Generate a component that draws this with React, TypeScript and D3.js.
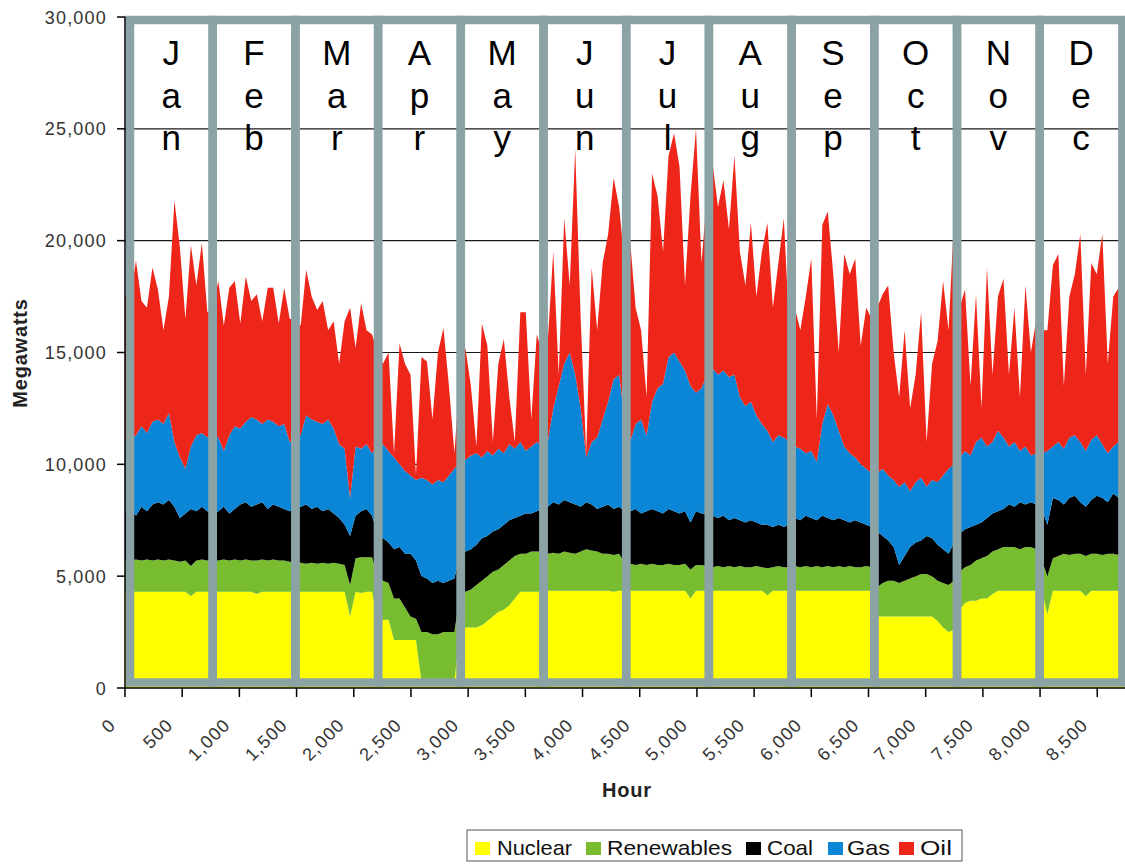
import React from "react";
import * as d3 from "d3";

// Hourly generation by fuel, sampled every 48 hours through the year (MW).
const HOUR_STEP = 48;

const nuclear = [
  // Jan
  4300, 4300, 4300, 4300, 4300, 4300, 4300, 4300, 4300, 4300, 4300, 4300, 4100, 4300, 4300, 4300,
  // Feb
  4300, 4300, 4300, 4300, 4300, 4300, 4300, 4300, 4200, 4300, 4300, 4300, 4300, 4300,
  // Mar
  4300, 4300, 4300, 4300, 4300, 4300, 4300, 4300, 4300, 4300, 4300, 3200, 4300, 4250, 4300, 4300,
  // Apr
  3050, 3050, 3050, 2150, 2150, 2150, 2150, 2150, 300, 300, 300, 300, 300, 300, 300,
  // May
  2600, 2700, 2700, 2700, 2800, 3000, 3200, 3400, 3500, 3700, 4000, 4300, 4300, 4300, 4300,
  // Jun
  4300, 4350, 4350, 4350, 4350, 4350, 4350, 4350, 4350, 4350, 4350, 4350, 4350, 4300, 4350,
  // Jul
  4350, 4350, 4350, 4350, 4350, 4350, 4350, 4350, 4350, 4350, 4350, 4350, 4000, 4350, 4350,
  // Aug
  4350, 4350, 4350, 4350, 4350, 4350, 4350, 4350, 4350, 4350, 4350, 4150, 4350, 4350, 4350, 4350,
  // Sep
  4350, 4350, 4350, 4350, 4350, 4350, 4350, 4350, 4350, 4350, 4350, 4350, 4350, 4350, 4350,
  // Oct
  3200, 3200, 3200, 3200, 3200, 3200, 3200, 3200, 3200, 3200, 3200, 3000, 2700, 2500, 2600,
  // Nov
  3500, 3800, 3900, 3900, 4000, 4000, 4200, 4350, 4350, 4350, 4350, 4350, 4350, 4350, 4350,
  // Dec
  4350, 3300, 4350, 4350, 4350, 4350, 4350, 4350, 4100, 4350, 4350, 4350, 4350, 4350, 4350, 4350,
];

const renewables = [
  1400, 1400, 1450, 1400, 1450, 1400, 1450, 1400, 1450, 1400, 1350, 1400, 1350, 1400, 1450, 1400,
  1400, 1400, 1450, 1400, 1450, 1400, 1450, 1400, 1500, 1450, 1400, 1450, 1400, 1400,
  1350, 1300, 1300, 1250, 1300, 1250, 1300, 1250, 1300, 1250, 1200, 1400, 1500, 1600, 1550, 1550,
  1950, 1750, 1650, 1850, 1850, 1450, 1050, 950, 2200, 2200, 2100, 2100, 2200, 2200, 2200,
  1600, 1600, 1700, 1900, 2000, 2000, 2000, 1900, 2000, 2000, 1900, 1700, 1700, 1800, 1800,
  1800, 1650, 1700, 1650, 1750, 1700, 1650, 1750, 1850, 1800, 1750, 1650, 1650, 1650, 1650,
  1250, 1200, 1150, 1200, 1150, 1200, 1150, 1150, 1200, 1150, 1150, 1200, 1300, 1150, 1150,
  1100, 1050, 1100, 1050, 1100, 1050, 1100, 1050, 1050, 1100, 1050, 1200, 1050, 1100, 1050, 1050,
  1100, 1050, 1100, 1050, 1100, 1050, 1100, 1050, 1100, 1050, 1100, 1050, 1050, 1100, 1050,
  1300, 1500, 1600, 1600, 1500, 1600, 1700, 1800, 1900, 1900, 1800, 1800, 2000, 2100, 2200,
  1700, 1600, 1600, 1800, 1800, 1900, 1900, 1850, 1950, 1950, 1950, 1850, 1950, 1950, 1850,
  1350, 1700, 1450, 1550, 1650, 1600, 1650, 1650, 1800, 1650, 1650, 1600, 1650, 1650, 1600, 1650,
];

const coal = [
  2200, 2300, 1950, 2400, 2150, 2500, 2550, 2500, 2650, 2400, 1950, 2100, 2550, 2200, 2350, 2200,
  2000, 2200, 2350, 2100, 2250, 2500, 2550, 2400, 2500, 2550, 2300, 2450, 2400, 2300,
  2250, 2400, 2500, 2650, 2400, 2550, 2300, 2450, 2200, 2050, 1800, 2200, 1900, 2050, 2150, 1850,
  1900, 1900, 1800, 2200, 2300, 2400, 2800, 2600, 2500, 2400, 2300, 2400, 2200, 2300, 2400,
  1800, 1800, 1800, 1800, 1900, 1800, 1800, 1800, 1800, 1800, 1700, 1700, 1800, 1700, 1800,
  1900, 2100, 2250, 2200, 2300, 2250, 2200, 2000, 2100, 2050, 1900, 2100, 2200, 2050, 2100,
  2300, 2350, 2500, 2250, 2400, 2450, 2400, 2300, 2450, 2400, 2300, 2350, 2100, 2400, 2300,
  2350, 2300, 2150, 2300, 2050, 2200, 2050, 2000, 2100, 1950, 1900, 1950, 1800, 1850, 1800, 1900,
  2150, 2100, 2250, 2200, 2050, 2300, 2150, 2100, 2150, 2100, 1950, 2100, 2000, 1850, 1800,
  2500, 2100, 1800, 1500, 800, 1100, 1400, 1500, 1500, 1700, 1700, 1600, 1500, 1400, 1700,
  1700, 1700, 1700, 1600, 1600, 1700, 1700, 1700, 1700, 1900, 1800, 2100, 1900, 2000, 2000,
  2300, 2300, 2700, 2500, 2200, 2550, 2600, 2300, 2200, 2400, 2600, 2550, 2300, 2700, 2550, 2400,
];

const gas = [
  3100, 3100, 3600, 3600, 3500, 3700, 3700, 3600, 3900, 2900, 2700, 2000, 2800, 3400, 3300, 3300,
  3700, 3300, 2500, 3500, 3700, 3400, 3600, 4000, 3800, 3500, 4000, 3700, 3600, 3800,
  3100, 3100, 3200, 4000, 4000, 3800, 3900, 4000, 3800, 3300, 3400, 1700, 3100, 2800, 2900, 2800,
  3900, 4200, 4100, 4100, 3700, 3700, 3500, 3600, 4400, 4400, 4400, 4500, 4500, 4700, 4900,
  4100, 4100, 4200, 4100, 3600, 3800, 3400, 3600, 3200, 3400, 3100, 3300, 2800, 3000, 3100,
  2800, 2900, 4200, 5300, 6100, 6700, 5800, 4400, 2000, 2800, 3200, 3900, 4600, 5800, 5900,
  4100, 3100, 3800, 4200, 3400, 4800, 5500, 5800, 6800, 7100, 6800, 6300, 6100, 5300, 5600,
  6200, 6600, 6400, 6500, 6400, 6400, 5500, 5200, 5300, 4800, 4500, 4200, 3800, 4000, 4000, 3700,
  3200, 3200, 2800, 3000, 2600, 4100, 5100, 4700, 3900, 3300, 3100, 2800, 2600, 2500, 2400,
  2600, 3000, 2900, 3000, 3500, 3300, 2500, 2700, 2800, 2200, 2600, 2800, 3300, 3800, 3500,
  3400, 3500, 3200, 3700, 3800, 3200, 3200, 3600, 3200, 2600, 2900, 2300, 2600, 2100, 2300,
  2500, 3300, 2300, 2600, 2500, 2700, 2700, 2700, 2500, 2700, 2700, 2400, 2200, 2100, 2500, 2300,
];

const oil = [
  6500, 6400, 7800, 5600, 5600, 6900, 5800, 4200, 5200, 10800, 9400, 6700, 9000, 6700, 8500, 5600,
  5600, 7000, 5600, 6600, 6500, 4700, 6500, 5200, 5600, 4600, 5900, 6000, 4600, 6100,
  5500, 5400, 4900, 6500, 5500, 5000, 5500, 4000, 4800, 3600, 5700, 8500, 4400, 6500, 5100, 5300,
  4200, 3600, 4400, 200, 5400, 4800, 4500, 200, 5400, 5300, 2900, 5700, 6900, 4000, 700,
  3900, 5000, 3100, 300, 6000, 4700, 600, 3800, 5100, 2100, 300, 5800, 6200, 1200, 4800,
  4200, 4500, 7000, 500, 6500, 3000, 10100, 4000, 200, 7800, 4800, 7000, 7500, 9000, 7500,
  7000, 9000, 5200, 4000, 1700, 10200, 8600, 5900, 9000, 9800, 8700, 3800, 8500, 11800, 5600,
  8000, 9200, 7500, 8500, 6600, 9800, 6500, 5400, 8000, 5300, 7700, 9300, 6000, 7700, 9800, 5000,
  6200, 5300, 7000, 8600, 1900, 8900, 8600, 6300, 3500, 8600, 8000, 8900, 5300, 7200, 6900,
  7400, 7800, 8500, 5700, 4000, 6800, 3700, 4800, 7400, 2000, 5200, 6300, 8700, 6200, 11000,
  6700, 7200, 3100, 6600, 1300, 8000, 3000, 6000, 7100, 3200, 6000, 2400, 7200, 4600, 6000,
  5500, 5400, 8100, 8400, 2800, 6300, 7200, 9300, 3400, 7900, 7200, 9400, 4000, 6700, 6900, 5800,
];

const SERIES_NAMES = ["Nuclear", "Renewables", "Coal", "Gas", "Oil"];
const SERIES_COLORS = ["#ffff00", "#78bd30", "#000000", "#0b86d6", "#ee2519"];
const MONTHS = ["Jan", "Feb", "Mar", "Apr", "May", "Jun", "Jul", "Aug", "Sep", "Oct", "Nov", "Dec"];
const Y_TICKS = [0, 5000, 10000, 15000, 20000, 25000, 30000];
const X_TICKS = [0, 500, 1000, 1500, 2000, 2500, 3000, 3500, 4000, 4500, 5000, 5500, 6000, 6500, 7000, 7500, 8000, 8500];

const W = 1125;
const H = 866;
const FONT = "'Liberation Sans', Arial, Helvetica, sans-serif";
const PLOT = { left: 125, right: 1127, top: 17, bottom: 688 };
const PANEL = { left: 130, right: 1122.4, top: 20, bottom: 682.5, stroke: 8.5, color: "#8ca3a6" };

// legend entries: swatch x, label x, label width
const LEGEND_LAYOUT = [
  { sx: 475, tx: 497, tw: 75 },
  { sx: 586, tx: 607, tw: 125 },
  { sx: 746, tx: 767, tw: 46 },
  { sx: 828, tx: 847, tw: 43 },
  { sx: 899, tx: 920, tw: 32 },
];

const fmt = d3.format(",");

export default function App() {
  const x = d3.scaleLinear().domain([0, 8760]).range([PLOT.left, PLOT.right]);
  const y = d3.scaleLinear().domain([0, 30000]).range([PLOT.bottom, PLOT.top]);

  const rows = nuclear.map((_, i) => ({
    hour: i * HOUR_STEP,
    Nuclear: nuclear[i],
    Renewables: renewables[i],
    Coal: coal[i],
    Gas: gas[i],
    Oil: oil[i],
  }));
  const layers = d3.stack<any>().keys(SERIES_NAMES)(rows);
  const area = d3
    .area<any>()
    .x((d) => x(d.data.hour))
    .y0((d) => y(d[0]))
    .y1((d) => y(d[1]));

  const panelX = d3.scaleLinear().domain([0, MONTHS.length]).range([PANEL.left, PANEL.right]);

  return (
    <svg
      width={W}
      height={H}
      viewBox={`0 0 ${W} ${H}`}
      style={{ position: "absolute", left: 0, top: 0, background: "#fff" }}
      fontFamily={FONT}
    >
      <rect x={0} y={0} width={W} height={H} fill="#fff" />

      {/* horizontal gridlines */}
      {Y_TICKS.filter((t) => t > 0).map((t) => (
        <line key={t} x1={PLOT.left} x2={PLOT.right} y1={y(t)} y2={y(t)} stroke="#1a1a1a" strokeWidth={1.2} />
      ))}

      {/* stacked generation */}
      {layers.map((layer, i) => (
        <path key={layer.key} d={area(layer) || ""} fill={SERIES_COLORS[i]} stroke="none" />
      ))}

      {/* month panels */}
      {MONTHS.map((m, k) => (
        <rect
          key={m}
          x={panelX(k)}
          y={PANEL.top}
          width={panelX(k + 1) - panelX(k)}
          height={PANEL.bottom - PANEL.top}
          fill="none"
          stroke={PANEL.color}
          strokeWidth={PANEL.stroke}
        />
      ))}

      {/* month names, one letter per line */}
      {MONTHS.map((m, k) =>
        m.split("").map((ch, j) => (
          <text
            key={`${m}-${j}`}
            x={(panelX(k) + panelX(k + 1)) / 2}
            y={65 + j * 42.5}
            fontSize={35}
            textAnchor="middle"
            fill="#000"
          >
            {ch}
          </text>
        ))
      )}

      {/* y axis */}
      <line x1={PLOT.left} x2={PLOT.left} y1={PLOT.top} y2={PLOT.bottom} stroke="#000" strokeWidth={1.5} />
      {Y_TICKS.map((t) => (
        <g key={t}>
          <line x1={PLOT.left - 8} x2={PLOT.left} y1={y(t)} y2={y(t)} stroke="#000" strokeWidth={1.5} />
          <text x={107} y={y(t) + 6.5} fontSize={18} letterSpacing={1.2} textAnchor="end" fill="#333">
            {fmt(t)}
          </text>
        </g>
      ))}

      {/* x axis */}
      <line x1={PLOT.left} x2={PLOT.right} y1={PLOT.bottom} y2={PLOT.bottom} stroke="#000" strokeWidth={1.5} />
      {X_TICKS.map((t) => (
        <g key={t}>
          <line x1={x(t)} x2={x(t)} y1={PLOT.bottom} y2={PLOT.bottom + 9} stroke="#000" strokeWidth={1.5} />
          <text
            transform={`translate(${x(t) - 8},726) rotate(-45)`}
            fontSize={18}
            letterSpacing={1.2}
            textAnchor="end"
            fill="#333"
          >
            {fmt(t)}
          </text>
        </g>
      ))}

      {/* axis titles */}
      <text x={627} y={797} fontSize={20} fontWeight="bold" textAnchor="middle" letterSpacing={0.8} fill="#222">
        Hour
      </text>
      <text
        transform="translate(27,353) rotate(-90)"
        fontSize={20}
        fontWeight="bold"
        textAnchor="middle"
        letterSpacing={0.8}
        fill="#222"
      >
        Megawatts
      </text>

      {/* legend */}
      <rect x={467} y={830} width={495} height={31} fill="#fff" stroke="#555" strokeWidth={1} />
      {SERIES_NAMES.map((name, i) => (
        <g key={name}>
          <rect x={LEGEND_LAYOUT[i].sx} y={842} width={15} height={13} fill={SERIES_COLORS[i]} />
          <text
            x={LEGEND_LAYOUT[i].tx}
            y={855}
            fontSize={21}
            textLength={LEGEND_LAYOUT[i].tw}
            lengthAdjust="spacingAndGlyphs"
            fill="#111"
          >
            {name}
          </text>
        </g>
      ))}
    </svg>
  );
}
